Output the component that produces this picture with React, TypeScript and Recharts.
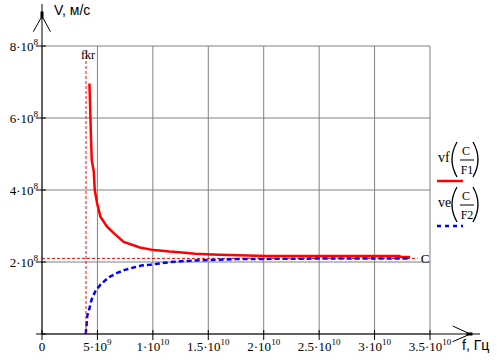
import React from 'react';
import { LineChart, Line, XAxis, YAxis, CartesianGrid, ReferenceLine, Legend } from 'recharts';

// frequency in units of 1e9 Hz, speed in units of 1e8 m/s
const vfFreq = [4.28, 4.37, 4.43, 4.49, 4.67, 4.76, 4.97, 5.27, 5.87, 6.47, 7.37, 8.58, 8.83, 10.07, 10.6, 11.5, 12.4, 13.8, 16.0, 20.2, 25.0, 30.0, 32.2, 32.4, 33.2];
const vfSpeed = [6.96, 6.0, 5.34, 4.83, 4.51, 4.0, 3.63, 3.26, 2.98, 2.8, 2.56, 2.43, 2.4, 2.33, 2.32, 2.29, 2.27, 2.23, 2.2, 2.17, 2.17, 2.17, 2.17, 2.14, 2.14];

const veFreq = [3.94, 4.03, 4.08, 4.3, 4.48, 4.8, 5.3, 6.04, 6.73, 7.48, 8.17, 8.96, 9.68, 10.4, 11.1, 12.0, 13.0, 14.6, 17.5, 22.0, 27.0, 33.2];
const veSpeed = [0, 0.28, 0.5, 0.74, 0.96, 1.18, 1.38, 1.58, 1.69, 1.78, 1.84, 1.9, 1.92, 1.95, 1.98, 2.01, 2.03, 2.05, 2.08, 2.09, 2.1, 2.1];

const fkr = 3.97;
const fkrTop = 7.9;
const cSpeed = 2.1;
const cEnd = 33.9;

const xTicks = [0, 5, 10, 15, 20, 25, 30, 35];
const xMant = ['0', '5', '1', '1.5', '2', '2.5', '3', '3.5'];
const xExp = ['', '9', '10', '10', '10', '10', '10', '10'];

const yTicks = [0, 2, 4, 6, 8];
const yMant = ['', '2', '4', '6', '8'];
const yExp = ['', '8', '8', '8', '8'];

const vfData = vfFreq.map((f, i) => ({ f, v: vfSpeed[i] }));
const veData = veFreq.map((f, i) => ({ f, v: veSpeed[i] }));

const SERIF = '"Liberation Serif", "Times New Roman", serif';
const SANS = '"Liberation Sans", Arial, sans-serif';

const XTick = (props: any) => {
  const { x, y, payload } = props;
  const i = xTicks.indexOf(payload.value);
  const m = xMant[i];
  const e = xExp[i];
  return (
    <g>
      <line x1={x} x2={x} y1={y - 4} y2={y + 6} stroke="#000" strokeWidth={1} />
      <text x={x} y={y + 17} textAnchor="middle" style={{ fontFamily: SERIF, fontSize: 13 }} fill="#000">
        {m}
        {e ? '·10' : ''}
        {e ? <tspan dy={-6} style={{ fontSize: 9 }}>{e}</tspan> : null}
      </text>
    </g>
  );
};

const YTick = (props: any) => {
  const { x, y, payload } = props;
  const i = yTicks.indexOf(payload.value);
  const m = yMant[i];
  const e = yExp[i];
  return (
    <g>
      <line x1={x - 6} x2={x + 4} y1={y} y2={y} stroke="#000" strokeWidth={1} />
      {m ? (
        <text x={x - 4} y={y + 5} textAnchor="end" style={{ fontFamily: SERIF, fontSize: 13 }} fill="#000">
          {m}·10
          <tspan dy={-6} style={{ fontSize: 9 }}>{e}</tspan>
        </text>
      ) : null}
    </g>
  );
};

const FkrLabel = (props: any) => {
  const { viewBox } = props;
  return (
    <text x={viewBox.x + 2} y={viewBox.y + 9} textAnchor="middle" style={{ fontFamily: SERIF, fontSize: 12 }} fill="#000">
      fkr
    </text>
  );
};

const CLabel = (props: any) => {
  const { viewBox } = props;
  return (
    <text x={viewBox.x + viewBox.width + 3} y={viewBox.y + 5} textAnchor="start" style={{ fontFamily: SERIF, fontSize: 13 }} fill="#000">
      C
    </text>
  );
};

const Entry = ({ name, sub, y, color, dash }: any) => (
  <g>
    <text x={8} y={y + 20} style={{ fontFamily: SERIF, fontSize: 14 }} fill="#000">{name}</text>
    <path d={`M27,${y} Q17,${y + 17.5} 27,${y + 35}`} fill="none" stroke="#000" strokeWidth={1.3} />
    <text x={36} y={y + 13} textAnchor="middle" style={{ fontFamily: SERIF, fontSize: 12 }} fill="#000">C</text>
    <line x1={30} x2={44} y1={y + 18} y2={y + 18} stroke="#000" strokeWidth={1} />
    <text x={37} y={y + 32} textAnchor="middle" style={{ fontFamily: SERIF, fontSize: 12 }} fill="#000">{sub}</text>
    <path d={`M43,${y} Q53,${y + 17.5} 43,${y + 35}`} fill="none" stroke="#000" strokeWidth={1.3} />
    <line x1={7} x2={33} y1={y + 39} y2={y + 39} stroke={color} strokeWidth={2.5} strokeDasharray={dash} />
  </g>
);

const LegendBox = () => (
  <svg width={74} height={100} style={{ display: 'block' }}>
    <Entry name="vf" sub="F1" y={7} color="#ff0000" />
    <Entry name="ve" sub="F2" y={52} color="#0000ff" dash="4 4" />
  </svg>
);

export default function App() {
  return (
    <div style={{ position: 'absolute', left: 0, top: 0, width: 504, height: 360, background: '#fff' }}>
      <LineChart width={504} height={360} margin={{ top: 46, right: 74, bottom: 0, left: 0 }}>
        <CartesianGrid stroke="#808080" strokeWidth={1} />
        <XAxis
          type="number"
          dataKey="f"
          domain={[0, 35]}
          ticks={xTicks}
          height={26}
          tickSize={0}
          tickMargin={0}
          tickLine={false}
          axisLine={{ stroke: '#000', strokeWidth: 1 }}
          tick={<XTick />}
          interval={0}
          allowDataOverflow
        />
        <YAxis
          type="number"
          dataKey="v"
          domain={[0, 8]}
          ticks={yTicks}
          width={42}
          tickSize={0}
          tickMargin={0}
          tickLine={false}
          axisLine={{ stroke: '#000', strokeWidth: 1 }}
          tick={<YTick />}
          interval={0}
          allowDataOverflow
        />
        <ReferenceLine
          segment={[{ x: 0, y: cSpeed }, { x: cEnd, y: cSpeed }]}
          stroke="#ff0000"
          strokeWidth={1}
          strokeDasharray="3 2"
          label={<CLabel />}
        />
        <Line data={vfData} dataKey="v" type="linear" stroke="#ff0000" strokeWidth={2.5} dot={false} isAnimationActive={false} name="vf" />
        <Line data={veData} dataKey="v" type="linear" stroke="#0000ff" strokeWidth={2.5} strokeDasharray="5 3" dot={false} isAnimationActive={false} name="ve" />
        <ReferenceLine
          segment={[{ x: fkr, y: 0 }, { x: fkr, y: fkrTop }]}
          stroke="#ff0000"
          strokeWidth={1}
          strokeDasharray="3 2"
          label={<FkrLabel />}
        />
        <Legend
          layout="horizontal"
          verticalAlign="middle"
          content={() => <LegendBox />}
          wrapperStyle={{ left: 430, top: 135, width: 74, height: 100 }}
        />
      </LineChart>
      <svg width={504} height={360} style={{ position: 'absolute', left: 0, top: 0, pointerEvents: 'none' }}>
        <line x1={42} x2={42} y1={4} y2={46} stroke="#000" strokeWidth={1} />
        <line x1={41} y1={18} x2={33.3} y2={31.7} stroke="#000" strokeWidth={1} />
        <line x1={43} y1={18} x2={50.5} y2={31.7} stroke="#000" strokeWidth={1} />
        <rect x={40.5} y={11.5} width={3} height={7} fill="#000" />
        <line x1={430} x2={480} y1={334} y2={334} stroke="#000" strokeWidth={1} />
        <line x1={452.7} y1={326} x2={468} y2={333} stroke="#000" strokeWidth={1} />
        <line x1={452.7} y1={341.7} x2={468} y2={335} stroke="#000" strokeWidth={1} />
        <rect x={466.5} y={332.5} width={6} height={3} fill="#000" />
        <text x={54} y={15} style={{ fontFamily: SANS, fontSize: 14 }} fill="#000">V, м/с</text>
        <text x={462} y={350} style={{ fontFamily: SANS, fontSize: 14 }} fill="#000">f, Гц</text>
      </svg>
    </div>
  );
}
